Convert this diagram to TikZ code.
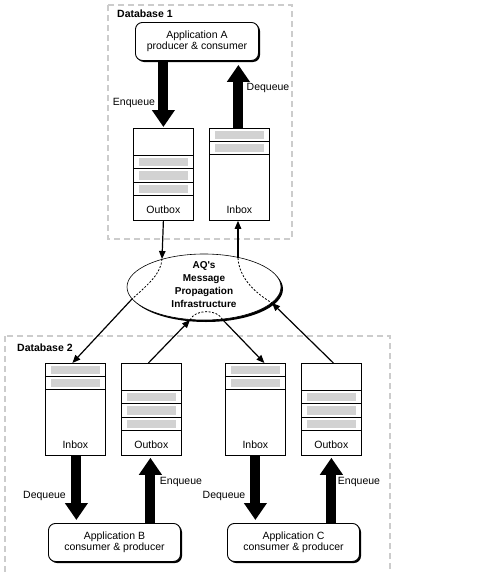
\documentclass[tikz,border=0pt]{standalone}
\usepackage{fontspec}
\setmainfont{Liberation Sans}
\usetikzlibrary{arrows.meta,shapes.geometric}
\newcommand\queueframe[3]{% name, x, y
  \node[qbox] (#1) at (#2,#3) {};}
\newcommand\outrows[1]{%
  \foreach \d in {27,40,54,67} \draw[divline] ([shift={(0,\d)}]#1.north west) -- ([shift={(0,\d)}]#1.north east);
  \foreach \a/\b in {27/40,40/54,54/67} \fill[bar] ([shift={(6,\a+2.5)}]#1.north west) rectangle ([shift={(-6,\b-2.5)}]#1.north east);
  \node at ([shift={(0,82)}]#1.north) {Outbox};}
\newcommand\inrows[1]{%
  \foreach \d in {13,26} \draw[divline] ([shift={(0,\d)}]#1.north west) -- ([shift={(0,\d)}]#1.north east);
  \foreach \a/\b in {0/13,13/26} \fill[bar] ([shift={(6,\a+2.5)}]#1.north west) rectangle ([shift={(-6,\b-2.5)}]#1.north east);
  \node at ([shift={(0,82)}]#1.north) {Inbox};}
\begin{document}
\begin{tikzpicture}[x=1pt,y=-1pt,
  every node/.style={font=\fontsize{10.5}{11.5}\selectfont, inner sep=0pt},
  dbframe/.style={draw=gray!40, line width=2.5pt, dash pattern=on 6pt off 4pt},
  qbox/.style={draw, line width=0.8pt, fill=white, minimum width=60pt, minimum height=92pt, anchor=north west},
  divline/.style={line width=0.8pt},
  bar/.style={fill=gray!35},
  appbox/.style={draw, line width=0.9pt, rounded corners=7pt, fill=white, minimum width=132pt, minimum height=38pt, anchor=north west, align=center},
  appshadow/.style={fill=black, rounded corners=7pt},
  bigarrow/.style={line width=10pt, -{Triangle[width=22pt,length=17pt]}},
  thinarrow/.style={line width=1.2pt, -{Triangle[width=6.5pt,length=8pt]}},
  innerpath/.style={line width=0.8pt, dash pattern=on 2pt off 1.6pt},
  dblabel/.style={font=\bfseries\fontsize{10.5}{12}\selectfont, anchor=west},
  aqtext/.style={font=\bfseries\fontsize{10}{13}\selectfont, align=center}
]
\useasboundingbox (0,0) rectangle (496,573);
% database frames
\draw[dbframe] (108,5) rectangle (292,239);
\draw[dbframe] (5,336) rectangle (390,600);
\node[dblabel] (db1) at (117,14) {Database 1};
\node[dblabel] (db2) at (17,348) {Database 2};

% applications
\fill[appshadow] (137,24) rectangle (260,62);
\node[appbox, minimum width=123pt] (appA) at (135,22) {Application A\\producer \& consumer};
\fill[appshadow] (50,525) rectangle (182,563);
\node[appbox] (appB) at (48,523) {Application B\\consumer \& producer};
\fill[appshadow] (229,525) rectangle (361,563);
\node[appbox] (appC) at (227,523) {Application C\\consumer \& producer};

% queues
\queueframe{o1}{133}{128}\outrows{o1}
\queueframe{i1}{209}{128}\inrows{i1}
\queueframe{i2}{45}{363}\inrows{i2}
\queueframe{o2}{121}{363}\outrows{o2}
\queueframe{i3}{225}{363}\inrows{i3}
\queueframe{o3}{301}{363}\outrows{o3}

% enqueue / dequeue arrows
\draw[bigarrow, shorten >=1pt] (appA.south -| o1.north) -- (o1.north);
\draw[bigarrow, shorten >=4pt] ([xshift=-1pt]i1.north) -- ([xshift=-1pt]i1.north |- appA.south);
\draw[bigarrow, shorten >=3pt] ([xshift=1pt]i2.south) -- ([xshift=1pt]i2.south |- appB.north);
\draw[bigarrow, shorten >=2pt] ([xshift=-1pt]o2.south |- appB.north) -- ([xshift=-1pt]o2.south);
\draw[bigarrow, shorten >=3pt] (i3.south) -- (i3.south |- appC.north);
\draw[bigarrow, shorten >=2pt] (o3.south |- appC.north) -- (o3.south);

\node (enq1) at (134,103) {Enqueue};
\node (deq1) at (268,88) {Dequeue};
\node (deq2) at (44.5,496) {Dequeue};
\node (enq2) at (181,482) {Enqueue};
\node (deq3) at (224,496) {Dequeue};
\node (enq3) at (359,482) {Enqueue};

% propagation ellipse
\fill[black] (206,289) ellipse[x radius=77pt, y radius=33pt];
\node[ellipse, draw, line width=0.6pt, fill=white, minimum width=154pt, minimum height=66pt] (aq) at (204,287) {};
\node[aqtext] (aqlabel) at (204,285) {AQ\textquotesingle s\\Message\\Propagation\\Infrastructure};

\coordinate (aqT1) at (162,259);
\coordinate (aqT2) at (238,258);
\coordinate (aqL) at (132,299);
\coordinate (aqB1) at (190,320);
\coordinate (aqB2) at (222,319);
\coordinate (aqR) at (272,303);

\draw[innerpath] (aqT1) .. controls (161,273) and (150,283) .. (aqL);
\draw[innerpath] (aqT2) .. controls (239,276) and (252,291) .. (aqR);
\draw[innerpath] (aqB1) .. controls (195,309) and (217,309) .. (aqB2);

\draw[thinarrow] (o1.south) -- (aqT1);
\draw[thinarrow] (aqT2) -- (aqT2 |- i1.south);
\draw[thinarrow] (aqL) -- ([xshift=-3pt]i2.north);
\draw[thinarrow] ([xshift=-3pt]o2.north) -- (aqB1);
\draw[thinarrow] (aqB2) -- ([xshift=9pt]i3.north);
\draw[thinarrow] ([xshift=2pt]o3.north) -- (aqR);
\end{tikzpicture}
\end{document}
